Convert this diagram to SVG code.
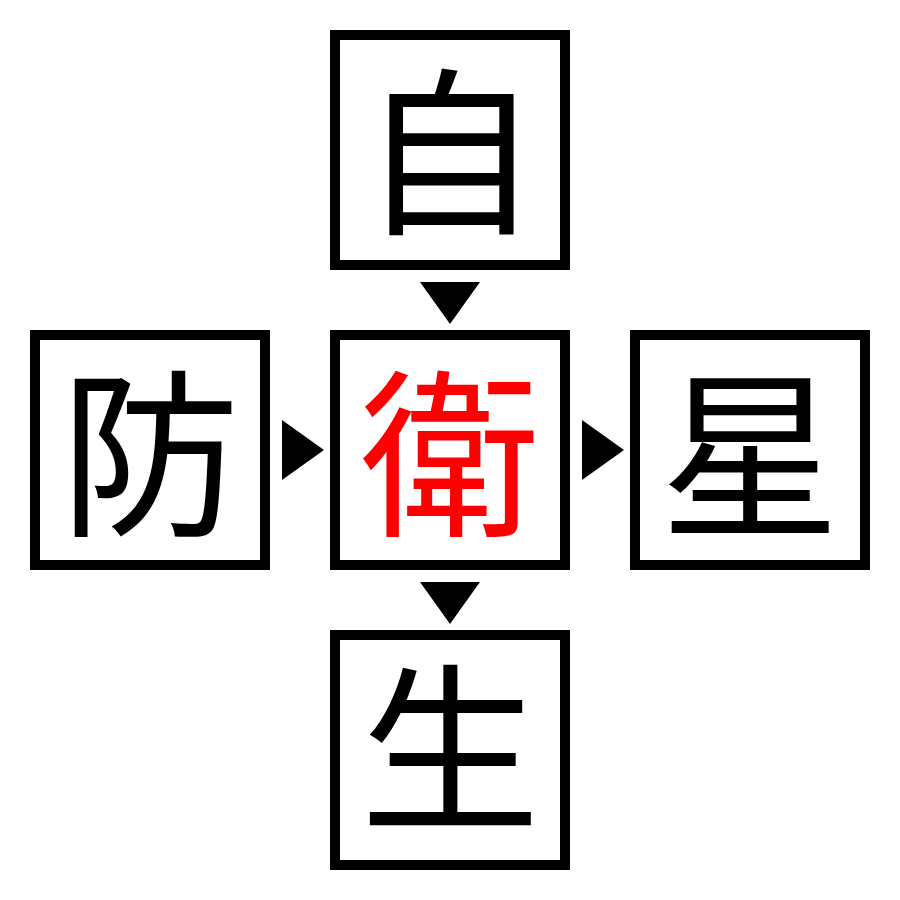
<svg xmlns="http://www.w3.org/2000/svg" width="900" height="900" viewBox="0 0 900 900">
<style>
.box{fill:#fff;stroke:#000;stroke-width:10}
.ch{font-family:"Noto Sans CJK JP","Noto Sans CJK SC",sans-serif;font-size:180px;text-anchor:middle;fill:#000}
.red{fill:#ff0000}
.arr{fill:#000}
</style>
<rect width="900" height="900" fill="#fff"/>
<g id="connectors">
<polygon class="arr" points="420,282 480,282 450,324"/>
<polygon class="arr" points="420,582 480,582 450,624"/>
<polygon class="arr" points="282,420 282,480 324,450"/>
<polygon class="arr" points="582,420 582,480 624,450"/>
</g>
<g id="node-top"><rect class="box" x="335" y="35" width="230" height="230"/><text class="ch" x="450" y="220">自</text></g>
<g id="node-left"><rect class="box" x="35" y="335" width="230" height="230"/><text class="ch" x="150" y="522">防</text></g>
<g id="node-center"><rect class="box" x="335" y="335" width="230" height="230"/><text class="ch red" x="450" y="522">衛</text></g>
<g id="node-right"><rect class="box" x="635" y="335" width="230" height="230"/><text class="ch" x="750" y="522">星</text></g>
<g id="node-bottom"><rect class="box" x="335" y="635" width="230" height="230"/><text class="ch" x="450" y="816">生</text></g>
</svg>
